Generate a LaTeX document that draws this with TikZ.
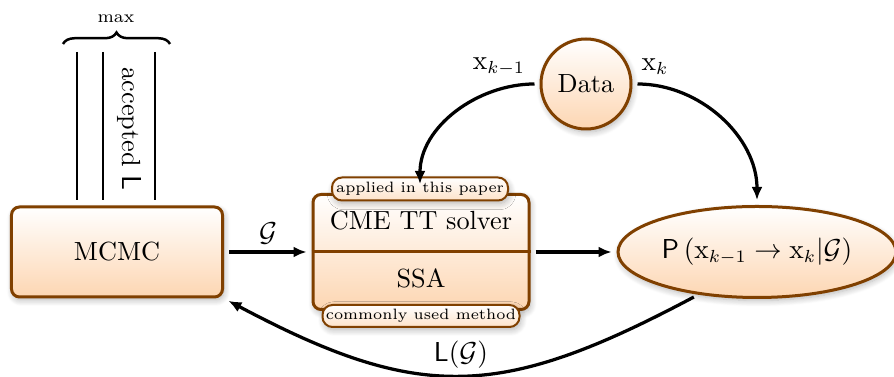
\documentclass[tikz,border=0pt]{standalone}
\usetikzlibrary{arrows.meta,shapes.geometric,shadows,shadows.blur,decorations.pathreplacing}
\definecolor{bord}{RGB}{128,64,0}
\definecolor{peach}{RGB}{253,214,178}
\begin{document}
\begin{tikzpicture}[x=0.4pt,y=0.4pt,
  font=\fontsize{10.5}{12}\selectfont,
  shad/.style={blur shadow={shadow blur steps=8, shadow xshift=0.6pt, shadow yshift=-1.2pt, shadow opacity=30, shadow blur radius=2.5pt}},
  box/.style={draw=bord, line width=1.2pt, rounded corners=3.2pt, top color=white, bottom color=peach, inner sep=0pt, shad},
  tag/.style={draw=bord, line width=0.8pt, rounded corners=4pt, top color=white, bottom color=peach!70, inner sep=0pt, font=\fontsize{6}{7}\selectfont, shad},
  circ/.style={circle, draw=bord, line width=1.2pt, top color=white, bottom color=peach, inner sep=0pt, minimum size=36pt, shad},
  ell/.style={ellipse, draw=bord, line width=1.2pt, top color=white, bottom color=peach, inner sep=0pt, minimum width=111.2pt, minimum height=36.4pt, shad},
  arr/.style={-{Latex[length=5.2pt,width=4.4pt]}, line width=1.3pt, shorten >=2pt, shorten <=2pt},
  vline/.style={line width=0.8pt}]
\useasboundingbox (0,0) rectangle (894,-377);

% MCMC
\node[box, minimum width=84.4pt, minimum height=36pt] (mcmc) at (117,-252) {MCMC};
\draw[vline] (77,-52) -- (77,-200);
\draw[vline] (103,-52) -- (103,-200);
\draw[vline] (155,-52) -- (155,-200);
\node[rotate=-90] (acc) at (129,-129) {accepted $\mathsf{L}$};
\draw[line width=1pt, decorate, decoration={brace, amplitude=4.6pt}] (63,-44) -- (170,-44);
\node[font=\fontsize{7}{8}\selectfont] (maxl) at (116,-19) {max};

% CME / SSA
\node[box, minimum width=86.4pt, minimum height=46pt] (cme) at (421,-252) {};
\draw[bord, line width=1.2pt] (cme.west) -- (cme.east);
\node (cmet) at (421,-221) {CME TT solver};
\node (ssa) at (421,-278) {SSA};
\node[tag, minimum width=70.4pt, minimum height=9.2pt] (tagA) at (420,-189) {applied in this paper};
\node[tag, minimum width=78.8pt, minimum height=8.8pt] (tagB) at (421,-316) {commonly used method};

% Data
\node[circ] (data) at (586,-84) {Data};

% Ellipse
\node[ell] (p) at (757,-252) {$\mathsf{P}\left(\mathrm{x}_{k-1}\rightarrow\mathrm{x}_k|\mathcal{G}\right)$};

% arrows
\draw[arr] (mcmc.east) -- (cme.west);
\node (glbl) at (268,-233) {$\mathcal{G}$};
\draw[arr] (cme.east) -- (p.west);
\draw[arr] (data.west) to[out=180,in=90] (tagA.center);
\node (xkm) at (499,-67) {$\mathrm{x}_{k-1}$};
\draw[arr] (data.east) to[out=0,in=90] (p.north);
\node (xk) at (655,-67) {$\mathrm{x}_{k}$};
\draw[arr] (p.216) to[out=-152,in=-28,looseness=1.2] (mcmc.south east);
\node (lg) at (461,-355) {$\mathsf{L}(\mathcal{G})$};
\end{tikzpicture}
\end{document}
